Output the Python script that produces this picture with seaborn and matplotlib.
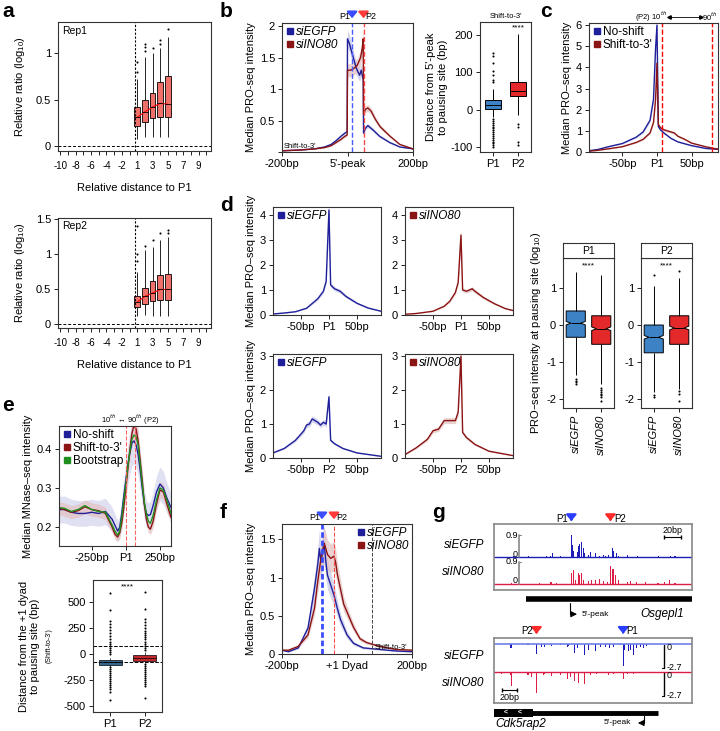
import numpy as np
import pandas as pd
import matplotlib
matplotlib.use("Agg")
import matplotlib.pyplot as plt
from matplotlib.lines import Line2D
import seaborn as sns

# ---------------- data ----------------
# a: boxes per relative distance (low whisker, q1, median, q3, high whisker)
A_ORDER = ["-10", "-9", "-8", "-7", "-6", "-5", "-4", "-3", "-2", "-1",
           "1", "2", "3", "4", "5", "6", "7", "8", "9", "10"]
A_TICKLABELS = ["-10", "", "-8", "", "-6", "", "-4", "", "-2", "",
                "1", "", "3", "", "5", "", "7", "", "9", ""]
A_CATS = ["1", "2", "3", "4", "5"]
REP1_STATS = [(0.08, 0.22, 0.31, 0.42, 0.72), (0.10, 0.26, 0.37, 0.50, 0.96),
              (0.10, 0.30, 0.42, 0.57, 1.00), (0.10, 0.31, 0.46, 0.69, 1.05),
              (0.10, 0.31, 0.45, 0.75, 1.17)]
REP1_OUT = [[0.8, 0.9], [1.02, 1.06, 1.1], [1.05], [1.1, 1.14], [1.25]]
REP2_STATS = [(0.12, 0.25, 0.32, 0.40, 0.75), (0.13, 0.29, 0.40, 0.52, 1.06),
              (0.12, 0.33, 0.45, 0.62, 1.10), (0.12, 0.35, 0.50, 0.70, 1.20),
              (0.12, 0.35, 0.50, 0.72, 1.25)]
REP2_OUT = [[0.9, 1.0, 1.4], [1.12], [1.2], [1.3], [1.3, 1.35]]

# b: median PRO-seq profiles around the 5'-peak
B_EGFP_X = [-200, -150, -100, -70, -50, -35, -20, -8, -1, 0, 6, 16, 27, 37, 42, 46, 48, 49, 55, 62, 78, 98, 129, 160, 200]
B_EGFP_Y = [0.02, 0.03, 0.05, 0.08, 0.12, 0.18, 0.25, 0.30, 0.32, 1.80, 1.72, 1.53, 1.33, 1.22, 1.30, 1.20, 1.15, 0.30, 0.38, 0.42, 0.35, 0.25, 0.15, 0.08, 0.05]
B_INO_X = [-200, -150, -100, -70, -50, -35, -20, -8, -1, 0, 10, 20, 30, 40, 45, 48, 49, 55, 62, 72, 85, 100, 130, 160, 200]
B_INO_Y = [0.02, 0.03, 0.05, 0.07, 0.10, 0.15, 0.20, 0.25, 0.27, 1.30, 1.30, 1.33, 1.38, 1.50, 1.65, 1.80, 0.60, 0.68, 0.70, 0.65, 0.52, 0.40, 0.25, 0.12, 0.05]
B_P1, B_P2 = 14, 49
# b right: distance from 5'-peak to pausing site
BB_CATS = ["P1", "P2"]
BB_STATS = [(-18, 3, 13, 25, 55), (-15, 37, 50, 74, 204)]
BB_OUT = [[-25, -30, -35, -40, -45, -50, -55, -60, -65, -70, -75, -80, -85, -90, -95, -100,
           75, 80, 92, 104, 124, 145, 152],
          [-38, -47, -87, -93]]

# c: no-shift vs shift-to-3'
C_NS_X = [-100, -85, -70, -50, -30, -20, -10, -5, -2, 0, 2, 5, 10, 20, 30, 50, 70, 90]
C_NS_Y = [0.05, 0.12, 0.25, 0.40, 0.70, 0.95, 1.50, 2.50, 4.90, 6.00, 1.20, 1.05, 0.90, 0.65, 0.48, 0.30, 0.17, 0.12]
C_S3_X = [-100, -85, -70, -50, -30, -20, -10, -5, -2, 0, 2, 5, 10, 20, 25, 30, 40, 50, 70, 90]
C_S3_Y = [0.03, 0.08, 0.15, 0.25, 0.45, 0.60, 0.90, 1.40, 2.50, 4.20, 1.30, 1.15, 1.05, 0.95, 0.90, 0.75, 0.60, 0.42, 0.25, 0.12]
C_Q10, C_Q90 = 7, 79

# d: profiles around P1 (top) and P2 (bottom)
D1_X = [-100, -80, -60, -40, -20, -10, -5, 0, 3, 10, 20, 30, 50, 70, 93]
D1_Y = [0.04, 0.08, 0.13, 0.27, 0.65, 0.95, 1.35, 4.20, 1.20, 1.05, 0.95, 0.75, 0.47, 0.28, 0.15]
D2_X = [-100, -80, -50, -30, -20, -10, -5, 0, 3, 10, 20, 25, 40, 60, 80, 93]
D2_Y = [0.03, 0.06, 0.15, 0.35, 0.55, 0.90, 1.30, 3.20, 1.00, 0.95, 1.05, 0.95, 0.70, 0.45, 0.25, 0.18]
D3_X = [-100, -80, -60, -45, -40, -35, -30, -25, -20, -15, -10, -5, 0, 3, 10, 25, 50, 93]
D3_Y = [0.15, 0.28, 0.52, 0.80, 0.97, 1.00, 1.15, 1.10, 1.05, 0.97, 1.05, 1.00, 1.80, 0.52, 0.42, 0.28, 0.15, 0.05]
D4_X = [-100, -80, -60, -50, -40, -30, -20, -10, -5, 0, 3, 10, 25, 50, 93]
D4_Y = [0.10, 0.30, 0.55, 0.80, 0.85, 1.10, 1.10, 1.10, 1.35, 3.00, 0.75, 0.60, 0.40, 0.20, 0.07]
# d right: PRO-seq intensity at pausing site
DB_CATS = ["siEGFP", "siINO80"]
DB_P1_STATS = [(-1.35, -0.33, 0.05, 0.38, 1.42), (-1.60, -0.52, -0.10, 0.25, 1.35)]
DB_P1_OUT = [[-1.45, -1.5, -1.55, -1.6], [-1.7, -1.75, -1.8, -1.85, -1.9, -1.95, -2.05]]
DB_P2_STATS = [(-1.80, -0.75, -0.33, 0.00, 1.05), (-1.72, -0.52, -0.08, 0.25, 1.28)]
DB_P2_OUT = [[1.35, -1.9, -1.95], [1.45, -1.78, -1.85, -2.05]]

# e: MNase-seq profiles around P1
E_X = [-490, -450, -400, -350, -300, -250, -200, -150, -100, -80, -60, -45, -30, -15, 0, 15, 30,
       45, 60, 75, 90, 105, 120, 135, 150, 165, 180, 200, 225, 250, 275, 300, 331]
E_NS = [0.245, 0.245, 0.238, 0.235, 0.235, 0.238, 0.235, 0.240, 0.220, 0.205, 0.190, 0.200, 0.235, 0.280, 0.320, 0.360, 0.390,
        0.415, 0.420, 0.410, 0.385, 0.345, 0.300, 0.260, 0.235, 0.230, 0.232, 0.255, 0.290, 0.310, 0.300, 0.275, 0.250]
E_S3 = [0.248, 0.245, 0.238, 0.242, 0.252, 0.245, 0.242, 0.235, 0.200, 0.182, 0.175, 0.185, 0.210, 0.250, 0.300, 0.350, 0.400,
        0.440, 0.460, 0.450, 0.420, 0.370, 0.320, 0.260, 0.220, 0.200, 0.195, 0.215, 0.260, 0.295, 0.290, 0.260, 0.225]
E_BS = [0.250, 0.248, 0.240, 0.245, 0.255, 0.245, 0.240, 0.238, 0.205, 0.190, 0.180, 0.190, 0.225, 0.270, 0.310, 0.355, 0.395,
        0.425, 0.435, 0.430, 0.410, 0.360, 0.310, 0.265, 0.235, 0.215, 0.210, 0.230, 0.270, 0.300, 0.295, 0.270, 0.235]
E_Q10, E_Q90 = 0, 65
# e bottom: distance from +1 dyad to pausing site
EB_CATS = ["P1", "P2"]
EB_STATS = [(-120, -103, -80, -58, -40), (-90, -70, -38, -10, 20)]
EB_OUT = [[-440, -360, -340, -320, -300, -280, -260, -240, -220, -200, -180, -160, -140, -125,
           0, 20, 40, 60, 80, 100, 120, 140, 170, 200, 230, 260, 290, 320, 420, 590],
          [-420, -310, -290, -270, -250, -230, -210, -190, -170, -150, -130, -110, -95,
           40, 60, 80, 100, 120, 140, 160, 180, 200, 220, 250, 280, 310, 340, 430, 600]]

# f: PRO-seq profiles around the +1 dyad
F_EGFP_X = [-200, -180, -150, -120, -100, -90, -85, -80, -75, -70, -65, -60, -50, -40, -30, -20, 0, 20, 50, 100, 150, 200]
F_EGFP_Y = [0.05, 0.03, 0.08, 0.34, 0.86, 1.17, 1.38, 1.20, 1.35, 1.43, 1.20, 1.03, 0.90, 0.77, 0.60, 0.45, 0.25, 0.14, 0.08, 0.06, 0.04, 0.03]
F_INO_X = [-200, -180, -150, -120, -100, -90, -80, -70, -60, -50, -40, -35, -30, -20, -10, 0, 10, 20, 40, 60, 100, 150, 200]
F_INO_Y = [0.05, 0.05, 0.10, 0.25, 0.60, 0.95, 1.25, 1.45, 1.30, 1.25, 1.28, 1.20, 1.05, 0.85, 0.65, 0.55, 0.45, 0.35, 0.20, 0.15, 0.10, 0.06, 0.05]
F_P1, F_P2, F_SHIFT = -77, -40, 77

# g: browser tracks (position in bp across the window, signal)
G1_EGFP_POS = [23, 41, 62, 66, 69, 78, 91, 92, 94, 98, 100, 101, 103, 105, 107, 111, 114, 119, 124, 129, 131, 135, 139, 141, 144, 147, 157, 169, 194, 208, 213]
G1_EGFP_VAL = [0.03, 0.04, 0.03, 0.05, 0.15, 0.04, 0.90, 0.50, 0.25, 0.20, 0.45, 0.55, 0.60, 0.35, 0.15, 0.10, 0.20, 0.15, 0.05, 0.08, 0.05, 0.10, 0.35, 0.25, 0.15, 0.05, 0.10, 0.04, 0.04, 0.06, 0.03]
G1_INO_POS = [21, 54, 66, 68, 74, 91, 93, 94, 96, 99, 101, 103, 105, 111, 115, 119, 124, 129, 134, 137, 139, 141, 143, 146, 157, 161, 168, 178, 193, 201, 207, 213]
G1_INO_VAL = [0.05, 0.03, 0.07, 0.06, 0.03, 0.45, 0.55, 0.25, 0.15, 0.45, 0.35, 0.45, 0.15, 0.12, 0.15, 0.15, 0.18, 0.10, 0.08, 0.75, 0.60, 0.60, 0.35, 0.15, 0.06, 0.10, 0.06, 0.08, 0.05, 0.08, 0.15, 0.04]
G2_EGFP_POS = [20, 40, 50, 56, 60, 68, 78, 86, 88, 95, 98, 106, 111, 119, 125, 131, 136, 141, 149, 152, 154, 158, 161, 164, 168, 172, 176, 180]
G2_EGFP_VAL = [0.48, 0.10, 1.10, 0.30, 0.30, 0.20, 0.10, 0.30, 0.20, 1.00, 0.50, 1.20, 0.65, 0.80, 0.30, 0.30, 0.50, 0.30, 0.10, 2.50, 0.65, 0.85, 0.65, 1.20, 0.50, 0.30, 0.40, 0.20]
G2_INO_POS = [9, 19, 21, 40, 44, 50, 58, 60, 68, 78, 86, 90, 95, 99, 106, 113, 121, 135, 141, 152, 157, 164, 174]
G2_INO_VAL = [0.20, 0.35, 1.60, 0.35, 0.55, 2.40, 0.35, 0.20, 0.45, 0.35, 0.75, 0.55, 1.05, 1.30, 1.40, 0.35, 0.20, 0.35, 0.20, 0.80, 0.25, 0.20, 0.10]
G1_P1, G1_P2 = 91, 137
G2_P1, G2_P2 = 152, 50

# ---------------- style ----------------
sns.set_theme(style="ticks")
plt.rcParams["font.family"] = ["Liberation Sans", "DejaVu Sans"]
plt.rcParams.update({
    "axes.unicode_minus": False, "axes.linewidth": 0.8, "axes.edgecolor": "#333333",
    "xtick.major.size": 3, "ytick.major.size": 3, "xtick.major.width": 0.6,
    "ytick.major.width": 0.6, "xtick.labelsize": 8, "ytick.labelsize": 8,
    "xtick.major.pad": 2, "ytick.major.pad": 2, "axes.labelsize": 8,
    "axes.labelpad": 3, "text.color": "black", "axes.labelcolor": "black",
    "xtick.color": "black", "ytick.color": "black",
})

BLUE, DRED, GREEN = "#1f1f9a", "#8b1414", "#1f8f1f"
BLUE_BAND, RED_BAND = "#c3c3e6", "#e3c0c0"
SALMON = "#f0716a"
BOXBLUE, BOXRED = "#3d82c4", "#e3292a"
GBLUE, GRED = "#1c1cb8", "#dc1e46"

W, H = 720, 731
fig = plt.figure(figsize=(W / 100, H / 100), dpi=100)


def px_axes(x0, y0, x1, y1):
    return fig.add_axes([x0 / W, 1 - y1 / H, (x1 - x0) / W, (y1 - y0) / H])


def fmt(t):
    return f"{t:g}"


def profile(ax, x, y, color, band, rel):
    x = np.asarray(x, float)
    y = np.asarray(y, float)
    ax.fill_between(x, y * (1 - rel), y * (1 + rel), color=band, lw=0, alpha=0.7)
    sns.lineplot(x=x, y=y, ax=ax, color=color, lw=1, estimator=None, sort=False, legend=False)


def sq_legend(ax, labels, colors, loc, italic=True, fs=8.5):
    handles = [Line2D([], [], marker="s", ls="", color=c, markersize=4) for c in colors]
    ax.legend(handles, labels, loc=loc, frameon=False, handletextpad=0.1, borderaxespad=0.15,
              labelspacing=0.1, handlelength=0.8, borderpad=0.1,
              prop={"style": "italic" if italic else "normal", "size": fs})


def box_frame(cats, stats, n):
    # sample that reproduces the read quartiles; whiskers go to its min / max
    rows = []
    for c, (lo, q1, md, q3, hi) in zip(cats, stats):
        for v in [lo] + [q1] * n + [md] + [q3] * n + [hi]:
            rows.append((c, v))
    return pd.DataFrame(rows, columns=["cat", "val"])


def out_frame(cats, outs):
    return pd.DataFrame([(c, v) for c, vs in zip(cats, outs) for v in vs], columns=["cat", "val"])


def boxes(ax, cats, stats, outs, order, width, notch=False, color=None, palette=None, n=40, lw=0.7):
    df = box_frame(cats, stats, n)
    kw = dict(color=color) if palette is None else dict(hue="cat", hue_order=cats, palette=palette, legend=False)
    sns.boxplot(data=df, x="cat", y="val", order=order, whis=(0, 100), width=width,
                linecolor="black", linewidth=lw, showcaps=False, notch=notch,
                saturation=1, ax=ax, **kw)
    sns.stripplot(data=out_frame(cats, outs), x="cat", y="val", order=order, jitter=False,
                  color="black", size=1.5, linewidth=0, ax=ax)
    ax.set_xlabel("")
    ax.set_ylabel("")


def down_arrow(ax, x, color, text, side, y=1.05, fs=6.5, dx=6):
    trans = ax.get_xaxis_transform()
    ax.annotate("", xy=(x, y - 0.035), xytext=(x, y + 0.04), xycoords=trans, textcoords=trans,
                arrowprops=dict(arrowstyle="-|>,head_width=0.25,head_length=0.3", color=color, lw=1.6),
                annotation_clip=False)
    if side == "left":
        ax.text(x - dx, y, text, transform=trans, ha="right", va="center", fontsize=fs)
    else:
        ax.text(x + dx, y, text, transform=trans, ha="left", va="center", fontsize=fs)


def letter(x, y, s):
    fig.text(x / W, 1 - y / H, s, fontsize=15, fontweight="bold", va="top", ha="left")


# ---------------- a ----------------
for (y0, y1, stats, outs, rep, ylim, yt) in [
        (22, 151, REP1_STATS, REP1_OUT, "Rep1", (-0.05, 1.33), [0, 0.5, 1]),
        (218, 328, REP2_STATS, REP2_OUT, "Rep2", (-0.05, 1.52), [0, 0.5, 1, 1.5])]:
    ax = px_axes(58, y0, 211, y1)
    boxes(ax, A_CATS, stats, outs, A_ORDER, 0.72, color=SALMON, lw=0.6)
    pos = [A_ORDER.index(c) for c in A_CATS]
    ax.plot(pos, [s[2] for s in stats], color="red", lw=0.8)
    ax.axhline(0, ls=(0, (3, 2)), color="black", lw=0.7)
    ax.axvline(9.7, ls=(0, (2, 1.5)), color="black", lw=0.8)
    ax.set_xlim(-0.3, 19.6)
    ax.set_ylim(*ylim)
    ax.set_xticks(range(20), labels=A_TICKLABELS)
    ax.tick_params(axis="x", labelsize=7, pad=4)
    ax.set_yticks(yt, labels=[fmt(t) for t in yt])
    ax.set_xlabel("Relative distance to P1", labelpad=9)
    ax.set_ylabel("Relative ratio (log$_{\\mathregular{10}}$)", labelpad=6)
    ax.text(0.025, 0.97, rep, transform=ax.transAxes, va="top", fontsize=7.5)

# ---------------- b ----------------
ax = px_axes(282, 23, 413, 152)
profile(ax, B_EGFP_X, B_EGFP_Y, BLUE, BLUE_BAND, 0.08)
profile(ax, B_INO_X, B_INO_Y, DRED, RED_BAND, 0.08)
ax.axvline(B_P1, color="#4a5cff", ls="--", lw=1)
ax.axvline(B_P2, color="#ff4a4a", ls="--", lw=1)
ax.set_xlim(-200, 200)
ax.set_ylim(0, 2.05)
ax.set_xticks([-200, 0, 200], labels=["-200bp", "5'-peak", "200bp"])
ax.set_yticks([0, 0.5, 1, 1.5, 2], labels=["", "0.5", "1", "1.5", "2"])
ax.set_ylabel("Median PRO-seq intensity")
sq_legend(ax, ["siEGFP", "siINO80"], [BLUE, DRED], "upper left")
ax.text(-195, 0.06, "Shift-to-3'", fontsize=5.5)
down_arrow(ax, B_P1, "#3a4cff", "P1", "left")
down_arrow(ax, B_P2, "#ff3a3a", "P2", "right")

ax = px_axes(480, 22, 531, 152)
boxes(ax, BB_CATS, BB_STATS, BB_OUT, BB_CATS, 0.62, palette=[BOXBLUE, BOXRED])
ax.set_ylim(-113, 235)
ax.set_yticks([-100, 0, 100, 200], labels=["-100", "0", "100", "200"])
ax.set_ylabel("Distance from 5'-peak\nto pausing site (bp)", fontsize=8, labelpad=2)
ax.set_title("Shift-to-3'", fontsize=5.5, pad=3)
ax.text(1, 218, "****", ha="center", va="center", fontsize=6)

# ---------------- c ----------------
ax = px_axes(589, 23, 718, 152)
profile(ax, C_NS_X, C_NS_Y, BLUE, BLUE_BAND, 0.06)
profile(ax, C_S3_X, C_S3_Y, DRED, RED_BAND, 0.06)
ax.axvline(C_Q10, color="red", ls="--", lw=1)
ax.axvline(C_Q90, color="red", ls="--", lw=1)
ax.set_xlim(-98, 88)
ax.set_ylim(0, 6.1)
ax.set_xticks([-50, 0, 50], labels=["-50bp", "P1", "50bp"])
ax.set_yticks(range(7), labels=[str(t) for t in range(7)])
ax.set_ylabel("Median PRO\u2013seq intensity")
sq_legend(ax, ["No-shift", "Shift-to-3'"], [BLUE, DRED], "upper left", italic=False)
trans = ax.get_xaxis_transform()
ax.text(15, 1.045, "(P2) 10$^{th}$", transform=trans, ha="right", va="center", fontsize=5.5)
ax.plot([18, 63], [1.045, 1.045], transform=trans, color="black", lw=0.6, clip_on=False)
ax.plot([18], [1.045], transform=trans, marker="<", color="black", markersize=2.5, clip_on=False)
ax.plot([63], [1.045], transform=trans, marker=">", color="black", markersize=2.5, clip_on=False)
ax.text(65, 1.045, "90$^{th}$", transform=trans, ha="left", va="center", fontsize=5.5)

# ---------------- d ----------------
for (box, x, y, col, band, lab, site, ylim, yt, left) in [
        ((273, 207, 381, 315), D1_X, D1_Y, BLUE, BLUE_BAND, "siEGFP", "P1", 4.32, 5, True),
        ((405, 207, 513, 315), D2_X, D2_Y, DRED, RED_BAND, "siINO80", "P1", 4.32, 5, False),
        ((273, 354, 381, 458), D3_X, D3_Y, BLUE, BLUE_BAND, "siEGFP", "P2", 3.06, 4, True),
        ((405, 354, 513, 458), D4_X, D4_Y, DRED, RED_BAND, "siINO80", "P2", 3.06, 4, False)]:
    ax = px_axes(*box)
    profile(ax, x, y, col, band, 0.08)
    ax.set_xlim(-100, 93)
    ax.set_ylim(0, ylim)
    ax.set_xticks([-50, 0, 50], labels=["-50bp", site, "50bp"])
    ax.set_yticks(range(yt), labels=[str(t) for t in range(yt)])
    if left:
        ax.set_ylabel("Median PRO\u2013seq intensity")
    sq_legend(ax, [lab], [col], "upper left")

for (box, strip, stats, outs, name, left) in [
        ((563, 258, 614, 408), (563, 243, 614, 258), DB_P1_STATS, DB_P1_OUT, "P1", True),
        ((641, 258, 692, 408), (641, 243, 692, 258), DB_P2_STATS, DB_P2_OUT, "P2", False)]:
    ax = px_axes(*box)
    boxes(ax, DB_CATS, stats, outs, DB_CATS, 0.75, notch=True, palette=[BOXBLUE, BOXRED], n=300)
    ax.set_ylim(-2.24, 1.81)
    ax.set_yticks([-2, -1, 0, 1], labels=["-2", "-1", "0", "1"])
    ax.set_xticks([0, 1], labels=DB_CATS, rotation=90, style="italic")
    ax.text(0.5, 1.6, "****", ha="center", va="center", fontsize=6)
    if left:
        ax.set_ylabel("PRO\u2013seq intensity at pausing site (log$_{\\mathregular{10}}$)", labelpad=2)
    sax = px_axes(*strip)
    sax.set_xticks([])
    sax.set_yticks([])
    sax.text(0.5, 0.5, name, ha="center", va="center", fontsize=7.5, transform=sax.transAxes)

# ---------------- e ----------------
ax = px_axes(59, 426, 171, 546)
profile(ax, E_X, E_NS, BLUE, "#d4d4ef", 0.14)
profile(ax, E_X, E_S3, DRED, RED_BAND, 0.07)
sns.lineplot(x=E_X, y=E_BS, ax=ax, color=GREEN, lw=1, estimator=None, sort=False, legend=False)
ax.axvline(E_Q10, color="#ff6060", ls="--", lw=0.8)
ax.axvline(E_Q90, color="#ff6060", ls="--", lw=0.8)
ax.set_xlim(-490, 331)
ax.set_ylim(0.152, 0.458)
ax.set_xticks([-250, 0, 250], labels=["-250bp", "P1", "250bp"])
ax.set_yticks([0.2, 0.3, 0.4], labels=["0.2", "0.3", "0.4"])
ax.set_ylabel("Median MNase\u2013seq intensity")
sq_legend(ax, ["No-shift", "Shift-to-3'", "Bootstrap"], [BLUE, DRED, GREEN], "upper left", italic=False)
ax.text(30, 1.05, "10$^{th}$ \u2194 90$^{th}$ (P2)", transform=ax.get_xaxis_transform(),
        ha="center", va="center", fontsize=5.5)

ax = px_axes(93, 580, 162, 712)
boxes(ax, EB_CATS, EB_STATS, EB_OUT, EB_CATS, 0.68, palette=["#35688c", "#c1282d"], lw=0.5)
ax.axhline(75, color="black", ls="--", lw=0.7)
ax.axhline(-75, color="black", ls="--", lw=0.7)
ax.set_ylim(-557, 712)
ax.set_yticks([-500, -250, 0, 250, 500], labels=["-500", "-250", "0", "250", "500"])
ax.set_ylabel("Distance from the +1 dyad\nto pausing site (bp)", labelpad=17)
ax.text(0.5, 650, "****", ha="center", va="center", fontsize=6)
ax.text(-0.64, 0.5, "(Shift-to-3')", transform=ax.transAxes, rotation=90, ha="center",
        va="center", fontsize=5)

# ---------------- f ----------------
ax = px_axes(282, 524, 412, 654)
profile(ax, F_EGFP_X, F_EGFP_Y, BLUE, BLUE_BAND, 0.18)
profile(ax, F_INO_X, F_INO_Y, DRED, RED_BAND, 0.15)
ax.axvline(F_P1, color="#3a4cff", ls=(0, (2, 1)), lw=2)
ax.axvline(F_P2, color="#ff4a4a", ls="--", lw=0.8)
ax.axvline(F_SHIFT, color="#444444", ls="--", lw=0.7)
ax.set_xlim(-200, 200)
ax.set_ylim(0, 1.7)
ax.set_xticks([-200, 0, 200], labels=["-200bp", "+1 Dyad", "200bp"])
ax.set_yticks([0, 0.5, 1, 1.5], labels=["0", "0.5", "1", "1.5"])
ax.set_ylabel("Median PRO\u2013seq intensity")
sq_legend(ax, ["siEGFP", "siINO80"], [BLUE, DRED], "upper right")
ax.text(F_SHIFT + 8, 0.07, "Shift-to-3'", fontsize=5.5)
down_arrow(ax, F_P1, "#3a4cff", "P1", "left")
down_arrow(ax, F_P2, "#ff3a3a", "P2", "right")

# ---------------- g ----------------
def browser_frame(ax):
    ax.set_xticks([])
    ax.set_yticks([])
    for s in ax.spines.values():
        s.set_color("#888888")
        s.set_linewidth(1.2)
    ax.set_xlim(0, 233)


ax = px_axes(494, 524, 692, 590)
ax.bar(G1_EGFP_POS, G1_EGFP_VAL, bottom=1.1, width=1.2, color=GBLUE, lw=0)
ax.bar(G1_INO_POS, G1_INO_VAL, bottom=0, width=1.2, color=GRED, lw=0)
ax.axhline(1.1, color=GBLUE, lw=1)
ax.axhline(0, color=GRED, lw=1)
for base in (1.1, 0):
    ax.plot([29.5, 29.5], [base, base + 0.9], color="#888888", lw=1.2)
    ax.plot([29.5, 31.5], [base + 0.9, base + 0.9], color="#888888", lw=0.8)
    ax.text(28, base + 0.9, "0.9", ha="right", va="center", fontsize=6.5)
    ax.text(28, base + 0.12, "0", ha="right", va="center", fontsize=6.5)
ax.plot([200, 220], [1.92, 1.92], color="black", lw=0.8, marker="|", markersize=3)
ax.text(210, 2.02, "20bp", ha="center", va="bottom", fontsize=6.5)
browser_frame(ax)
ax.set_ylim(-0.25, 2.45)
down_arrow(ax, G1_P1, "#2a3cff", "P1", "left", y=1.08, fs=7, dx=4)
down_arrow(ax, G1_P2, "#ff2a2a", "P2", "right", y=1.08, fs=7, dx=4)

ax = px_axes(494, 594, 692, 625)
ax.plot([38, 233], [0.85, 0.85], color="black", lw=4, solid_capstyle="butt")
ax.plot([90, 90], [0.7, 0.35], color="black", lw=0.8)
ax.annotate("", xy=(101, 0.35), xytext=(89.6, 0.35),
            arrowprops=dict(arrowstyle="-|>,head_width=0.15,head_length=0.3", color="black", lw=0.8))
ax.text(103, 0.35, "5'-peak", va="center", fontsize=6)
ax.text(172, 0.35, "Osgepl1", va="center", fontsize=8.5, style="italic")
ax.set_xlim(0, 233)
ax.set_ylim(0, 1)
ax.axis("off")

ax = px_axes(494, 638, 692, 703)
ax.bar(G2_EGFP_POS, [-v for v in G2_EGFP_VAL], bottom=0, width=1.2, color=GBLUE, lw=0)
ax.bar(G2_INO_POS, [-v for v in G2_INO_VAL], bottom=-3.15, width=1.2, color=GRED, lw=0)
ax.axhline(0, color="#6f7fe8", lw=1.2)
ax.axhline(-3.15, color=GRED, lw=1)
for base in (0, -3.15):
    ax.plot([200, 200], [base - 0.1, base - 2.7], color="black", lw=1)
    ax.plot([198, 200], [base - 2.7, base - 2.7], color="black", lw=0.8)
    ax.text(203, base - 0.4, "0", ha="left", va="center", fontsize=6.5)
    ax.text(203, base - 2.7, "-2.7", ha="left", va="center", fontsize=6.5)
ax.plot([10, 27], [-5.15, -5.15], color="black", lw=0.8, marker="|", markersize=3)
ax.text(18.5, -5.5, "20bp", ha="center", va="top", fontsize=6.5)
browser_frame(ax)
ax.set_ylim(-6.65, 0.67)
down_arrow(ax, G2_P2, "#ff2a2a", "P2", "left", y=1.1, fs=7, dx=4)
down_arrow(ax, G2_P1, "#2a3cff", "P1", "right", y=1.1, fs=7, dx=4)

ax = px_axes(494, 706, 692, 731)
ax.plot([0, 193], [0.72, 0.72], color="black", lw=3.5, solid_capstyle="butt")
ax.fill_between([0, 46], [0.55, 0.55], [0.9, 0.9], color="black", lw=0)
for xm in (14, 30):
    ax.text(xm, 0.72, "<", color="white", ha="center", va="center", fontsize=5, fontweight="bold")
ax.plot([176, 176], [0.6, 0.32], color="black", lw=0.8)
ax.annotate("", xy=(166, 0.32), xytext=(176.4, 0.32),
            arrowprops=dict(arrowstyle="-|>,head_width=0.15,head_length=0.3", color="black", lw=0.8))
ax.text(161, 0.32, "5'-peak", ha="right", va="center", fontsize=6)
ax.text(2, 0.3, "Cdk5rap2", va="center", fontsize=8.5, style="italic")
ax.set_xlim(0, 233)
ax.set_ylim(0, 1)
ax.axis("off")

for (yy, lab) in [(545, "siEGFP"), (572, "siINO80"), (656, "siEGFP"), (683, "siINO80")]:
    fig.text(484 / W, 1 - yy / H, lab, ha="right", va="center", fontsize=8.5, style="italic")

# ---------------- panel letters ----------------
letter(2, 2, "a")
letter(220, 2, "b")
letter(540, 2, "c")
letter(220, 196, "d")
letter(2, 396, "e")
letter(220, 503, "f")
letter(432, 503, "g")

fig.savefig("out.png", dpi=100)
